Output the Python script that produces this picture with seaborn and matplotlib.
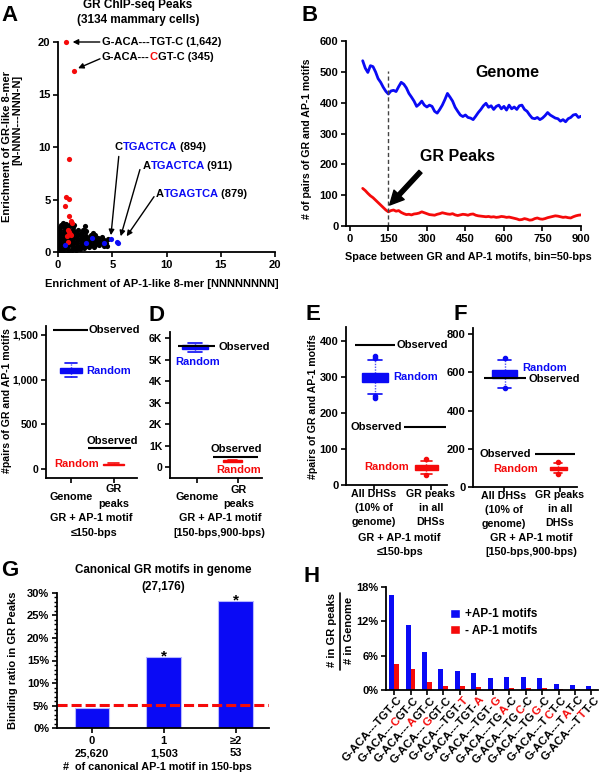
import numpy as np
import pandas as pd
import matplotlib
matplotlib.use("Agg")
import matplotlib.pyplot as plt
import seaborn as sns
from matplotlib.transforms import offset_copy, blended_transform_factory
from matplotlib.font_manager import FontProperties
from matplotlib.patches import Patch
from matplotlib.lines import Line2D

# ======================= DATA =======================
# Panel A: enrichment of 8-mers
A_black_x = [0.15, 0.5, 0.9, 1.3, 1.7, 2.0,
             0.1, 0.45, 0.85, 1.25, 1.65, 2.05, 2.4, 2.9, 3.3,
             0.2, 0.6, 1.0, 1.4, 1.8, 2.2, 2.6, 3.0, 3.4, 3.8, 4.26, 4.55,
             0.1, 0.5, 0.9, 1.3, 1.7, 2.1, 2.5, 2.9, 3.3, 3.7, 4.1, 4.45,
             0.2, 0.6, 1.0, 1.4, 1.8, 2.2, 2.6, 3.0, 3.4, 3.8, 4.2, 4.6,
             0.1, 0.5, 0.9, 1.3, 1.7, 2.1, 2.5, 2.9, 3.3, 3.7, 4.05,
             0.2, 0.6, 1.0, 1.4, 1.8, 2.2, 2.6, 3.0, 3.45,
             0.1, 0.5, 0.9, 1.3, 1.7, 2.1, 2.5, 3.2,
             0.2, 0.6, 1.0, 1.4, 1.8, 2.3, 2.6,
             0.15, 0.55, 0.95, 1.35, 2.5,
             0.3, 0.7, 1.1, 1.5,
             0.5, 1.2]
A_black_y = [0.10, 0.12, 0.08, 0.15, 0.18, 0.25,
             0.35, 0.33, 0.38, 0.32, 0.36, 0.40, 0.42, 0.45, 0.48,
             0.60, 0.58, 0.62, 0.57, 0.61, 0.63, 0.60, 0.64, 0.62, 0.66, 0.54, 0.58,
             0.85, 0.88, 0.83, 0.86, 0.84, 0.87, 0.82, 0.86, 0.85, 0.88, 0.84, 0.90,
             1.10, 1.08, 1.12, 1.09, 1.11, 1.07, 1.12, 1.10, 1.08, 1.13, 1.12, 1.20,
             1.35, 1.37, 1.33, 1.36, 1.34, 1.38, 1.35, 1.33, 1.36, 1.32, 1.42,
             1.60, 1.62, 1.58, 1.61, 1.59, 1.62, 1.57, 1.60, 1.65,
             1.85, 1.84, 1.87, 1.83, 1.86, 1.82, 1.88, 1.80,
             2.10, 2.12, 2.08, 2.11, 2.05, 2.12, 2.00,
             2.35, 2.37, 2.33, 2.36, 2.45,
             2.60, 2.62, 2.58, 2.55,
             2.78, 2.80]
A_red_x = [0.77, 1.45, 0.99, 0.74, 1.02, 0.68, 1.0, 1.2, 1.25, 0.95, 1.05, 1.2, 0.82, 1.1, 0.9]
A_red_y = [20.0, 17.25, 8.83, 5.2, 5.03, 4.35, 3.45, 3.0, 2.8, 2.1, 1.9, 1.6, 1.5, 1.7, 1.0]
A_blue_x = [0.68, 2.55, 3.1, 4.25, 4.88, 5.4, 5.5]
A_blue_y = [0.62, 0.9, 1.38, 0.9, 1.22, 1.0, 0.9]

# Panel B: pairs of GR and AP-1 motifs vs spacing
B_x = list(range(50, 901, 10))
B_genome = [536, 512, 498, 520, 517, 500, 478, 466, 450, 437, 428, 438, 440, 436, 452, 466, 460, 448, 430, 418,
            405, 388, 395, 405, 392, 386, 392, 388, 372, 366, 378, 392, 410, 430, 418, 405, 385, 372, 360, 355,
            360, 352, 350, 345, 356, 368, 378, 390, 398, 385, 390, 378, 388, 392, 380, 388, 376, 392, 380, 386,
            378, 390, 392, 378, 372, 360, 350, 348, 352, 345, 350, 358, 368, 360, 355, 350, 348, 340, 345, 338,
            348, 352, 360, 362, 352, 356]
B_peaks = [122, 115, 106, 98, 92, 84, 76, 68, 60, 52, 46, 50, 52, 48, 50, 44, 40, 37, 38, 36,
           39, 40, 42, 46, 43, 40, 37, 36, 35, 38, 40, 43, 41, 39, 38, 40, 36, 34, 36, 38,
           37, 35, 38, 39, 35, 33, 32, 31, 30, 31, 29, 30, 28, 29, 31, 30, 28, 29, 27, 25,
           23, 20, 21, 24, 22, 19, 20, 24, 26, 23, 22, 24, 27, 29, 31, 33, 32, 30, 28, 29,
           27, 26, 30, 33, 35, 36]

# Panels C-F: observed counts and random-sampling box statistics [first category, second category]
C_obs = [1560, 238]
C_med = [1100, 56]; C_q1 = [1075, 50]; C_q3 = [1125, 62]; C_lo = [1026, 46]; C_hi = [1189, 67]
C_fliers = [[], []]
D_obs = [5640, 490]
D_med = [5570, 290]; D_q1 = [5500, 265]; D_q3 = [5660, 315]; D_lo = [5360, 250]; D_hi = [5770, 330]
D_fliers = [[], []]
E_obs = [389, 160]
E_med = [298, 48]; E_q1 = [287, 43]; E_q3 = [310, 55]; E_lo = [253, 30]; E_hi = [347, 68]
E_fliers = [[352, 357, 247, 241], [73, 28]]
F_obs = [572, 172]
F_med = [592, 97]; F_q1 = [572, 89]; F_q3 = [612, 106]; F_lo = [520, 76]; F_hi = [664, 127]
F_fliers = [[673, 516], [134, 72]]

# Panel G: binding ratio
G_cats = ["0\n25,620", "1\n1,503", "\u22652\n53"]
G_vals = [4.4, 15.8, 28.2]
G_baseline = 5.2

# Panel H
H_motifs = ["G-ACA---TGT-C", "G-ACA---CGT-C", "G-ACA---AGT-C", "G-ACA---GGT-C", "G-ACA---TGT-T",
            "G-ACA---TGT-A", "G-ACA---TGT-G", "G-ACA---TGA-C", "G-ACA---TGC-C", "G-ACA---TGG-C",
            "G-ACA---TCT-C", "G-ACA---TAT-C", "G-ACA---TTT-C"]
H_red_idx = [None, 8, 8, 8, 12, 12, 12, 10, 10, 10, 9, 9, 9]
H_plus = [16.6, 11.4, 6.7, 3.6, 3.3, 2.9, 2.1, 2.2, 2.25, 2.1, 1.05, 0.9, 0.7]
H_minus = [4.5, 3.6, 1.45, 0.7, 0.65, 0.5, 0.25, 0.4, 0.4, 0.3, 0.15, 0.1, 0.05]
H_sets = ["+AP-1 motifs", "- AP-1 motifs"]

# ======================= STYLE =======================
sns.set_style("ticks")
FAM = ['Liberation Sans', 'DejaVu Sans']
plt.rcParams['font.family'] = FAM
plt.rcParams['font.weight'] = 'bold'
plt.rcParams['axes.labelweight'] = 'bold'
plt.rcParams['axes.edgecolor'] = 'black'
plt.rcParams['xtick.color'] = 'black'
plt.rcParams['ytick.color'] = 'black'
plt.rcParams['text.color'] = 'black'

BLUE = '#0a0af5'
RED = '#f50a0a'

W, H = 600, 773
fig = plt.figure(figsize=(W / 100, H / 100), dpi=100)
renderer = fig.canvas.get_renderer()


def add_ax(l, t, r, b):
    return fig.add_axes([l / W, 1 - b / H, (r - l) / W, (b - t) / H])


def ftext(x, y, s, **kw):
    kw.setdefault('ha', 'center')
    kw.setdefault('va', 'center')
    kw.setdefault('fontweight', 'bold')
    return fig.text(x / W, 1 - y / H, s, **kw)


def tw(s, size):
    if not s:
        return 0.0
    prop = FontProperties(family=FAM, weight='bold', size=size)
    a = renderer.get_text_width_height_descent(s + '|', prop, ismath=False)[0]
    b = renderer.get_text_width_height_descent('|', prop, ismath=False)[0]
    return a - b


def rainbow(ax, x, y, pieces, size, rot=0, ha='left', va='center', transform=None):
    if transform is None:
        transform = ax.transData
    full = ''.join(p for p, _ in pieces)
    start = -tw(full, size) if ha == 'right' else 0.0
    c, s_ = np.cos(np.radians(rot)), np.sin(np.radians(rot))
    prefix = ''
    for txt, col in pieces:
        off = start + tw(prefix, size)
        tr = offset_copy(transform, fig=fig, x=off * c, y=off * s_, units='dots')
        ax.text(x, y, txt, transform=tr, rotation=rot, rotation_mode='anchor',
                ha='left', va=va, color=col, fontsize=size, fontweight='bold', clip_on=False)
        prefix += txt


def style(ax, fs=8):
    sns.despine(ax=ax)
    ax.tick_params(direction='out', length=3.5, width=1.2, labelsize=fs, pad=2)
    for sp in ['left', 'bottom']:
        ax.spines[sp].set_linewidth(1.3)
        ax.spines[sp].set_color('black')


# panel letters
for lab, (px, py) in {'A': (10, 15.5), 'B': (310, 15.5), 'C': (8.5, 315.5), 'D': (156.5, 315.5),
                      'E': (312.5, 314.5), 'F': (460, 314.5), 'G': (10, 570), 'H': (311.5, 576.5)}.items():
    ftext(px, py, lab, fontsize=16)

# ======================= PANEL A =======================
axA = add_ax(58, 42, 275, 252)
sns.scatterplot(x=A_black_x, y=A_black_y, color='black', s=14, linewidth=0, ax=axA)
sns.scatterplot(x=A_red_x, y=A_red_y, color=RED, s=14, linewidth=0, ax=axA, clip_on=False)
sns.scatterplot(x=A_blue_x, y=A_blue_y, color=BLUE, s=14, linewidth=0, ax=axA)
axA.set_xlim(0, 20)
axA.set_ylim(0, 20)
axA.set_xticks([0, 5, 10, 15, 20])
axA.set_yticks([0, 5, 10, 15, 20])
style(axA, 8)
ftext(138, 12.5, "GR ChIP-seq Peaks\n(3134 mammary cells)", fontsize=8.5, linespacing=1.35)
ftext(162, 284, "Enrichment of AP-1-like 8-mer [NNNNNNNN]", fontsize=8)
ftext(7.5, 146, "Enrichment of GR-like 8-mer", fontsize=8, rotation=90)
ftext(17.5, 120, "[N-NNN---NNN-N]", fontsize=8, rotation=90)

aprops = dict(arrowstyle='-|>', color='black', lw=1, mutation_scale=8, shrinkA=0, shrinkB=0)
rainbow(axA, 4.05, 20.0, [("G-ACA---TGT-C (1,642)", 'black')], 8)
axA.annotate('', xy=(1.35, 20.0), xytext=(3.85, 20.0), arrowprops=aprops)
rainbow(axA, 4.05, 18.6, [("G-ACA---", 'black'), ("C", RED), ("GT-C (345)", 'black')], 8)
axA.annotate('', xy=(1.85, 17.5), xytext=(3.87, 18.4), arrowprops=aprops)
rainbow(axA, 5.25, 10.0, [("C", 'black'), ("TGACTCA", BLUE), (" (894)", 'black')], 8)
axA.annotate('', xy=(4.88, 1.6), xytext=(5.6, 9.1), arrowprops=aprops)
rainbow(axA, 7.8, 8.2, [("A", 'black'), ("TGACTCA", BLUE), (" (911)", 'black')], 8)
axA.annotate('', xy=(5.78, 1.5), xytext=(7.55, 7.85), arrowprops=aprops)
rainbow(axA, 9.0, 5.5, [("A", 'black'), ("TGAGTCA", BLUE), (" (879)", 'black')], 8)
axA.annotate('', xy=(6.33, 1.5), xytext=(8.85, 5.27), arrowprops=aprops)

# ======================= PANEL B =======================
axB = add_ax(346, 41, 581, 226)
sns.lineplot(x=B_x, y=B_genome, color=BLUE, lw=2, ax=axB)
sns.lineplot(x=B_x, y=B_peaks, color=RED, lw=2, ax=axB)
axB.set_xlim(-15, 900)
axB.set_ylim(0, 600)
axB.set_xticks(range(0, 901, 150))
axB.set_yticks(range(0, 601, 100))
style(axB, 8)
axB.vlines(150, 0, 503, colors='#444444', linestyles=(0, (3, 2)), lw=1)
axB.text(613, 498, "Genome", fontsize=11.5, ha='center', va='center', fontweight='bold')
axB.text(419, 226, "GR Peaks", fontsize=11.5, ha='center', va='center', fontweight='bold')
axB.annotate('', xy=(155, 68), xytext=(275, 176),
             arrowprops=dict(facecolor='black', edgecolor='black', width=3, headwidth=10, headlength=10, shrink=0))
ftext(468, 257, "Space between GR and AP-1 motifs, bin=50-bps", fontsize=7.8)
ftext(307, 139, "# of pairs of GR and AP-1 motifs", fontsize=7.6, rotation=90)


# ======================= PANELS C-F =======================
def box_panel(ax, pos, widths, med, q1, q3, lo, hi, fliers):
    cols = [BLUE, RED]
    for i in range(2):
        st = [dict(med=med[i], q1=q1[i], q3=q3[i], whislo=lo[i], whishi=hi[i], fliers=fliers[i])]
        ax.bxp(st, positions=[pos[i]], widths=[widths[i]], patch_artist=True, showfliers=True,
               boxprops=dict(facecolor=cols[i], edgecolor=cols[i], linewidth=1),
               whiskerprops=dict(color=cols[i], linestyle=(0, (1, 1)), linewidth=1, alpha=0.7),
               capprops=dict(color=cols[i], linewidth=1.2), capwidths=[widths[i] * 0.5],
               medianprops=dict(color=cols[i], linewidth=0),
               flierprops=dict(marker='o', markersize=3, markerfacecolor=cols[i], markeredgecolor=cols[i]),
               manage_ticks=False)


def cat_text(ax, x, py, s, **kw):
    tr = blended_transform_factory(ax.transData, fig.transFigure)
    ax.text(x, 1 - py / H, s, transform=tr, ha='center', va='center', fontweight='bold', **kw)


# C
axC = add_ax(45.7, 326, 137, 478)
box_panel(axC, [0, 1.0], [0.53, 0.5], C_med, C_q1, C_q3, C_lo, C_hi, C_fliers)
axC.hlines(C_obs[0], -0.43, 0.39, color='black', lw=1.5)
axC.hlines(C_obs[1], 0.39, 1.41, color='black', lw=1.5)
axC.set_xlim(-0.59, 1.55)
axC.set_ylim(-100, 1600)
axC.set_xticks([0, 1])
axC.set_xticklabels(['', ''])
axC.set_yticks([0, 500, 1000, 1500])
axC.set_yticklabels(['0', '500', '1,000', '1,500'])
style(axC, 7.5)
axC.text(0.42, 1560, "Observed", fontsize=8, va='center', ha='left', fontweight='bold')
axC.text(0.36, 1095, "Random", fontsize=8, va='center', ha='left', color=BLUE, fontweight='bold')
axC.text(0.97, 317, "Observed", fontsize=8, va='center', ha='center', fontweight='bold')
axC.text(0.67, 56, "Random", fontsize=8, va='center', ha='right', color=RED, fontweight='bold')
cat_text(axC, 0, 496.7, "Genome", fontsize=7.8)
cat_text(axC, 1, 496.7, "GR\npeaks", fontsize=7.8, linespacing=1.6)
ftext(91, 518, "GR + AP-1 motif", fontsize=7.8)
ftext(94, 533, "\u2264150-bps", fontsize=7.8)
ftext(7, 401, "#pairs of GR and AP-1 motifs", fontsize=7.6, rotation=90)

# D
axD = add_ax(170, 331.7, 261.7, 478)
box_panel(axD, [-0.04, 0.86], [0.64, 0.44], D_med, D_q1, D_q3, D_lo, D_hi, D_fliers)
axD.hlines(D_obs[0], -0.44, 0.44, color='black', lw=1.5)
axD.hlines(D_obs[1], 0.4, 1.46, color='black', lw=1.5)
axD.set_xlim(-0.64, 1.56)
axD.set_ylim(-500, 6300)
axD.set_xticks([0, 1])
axD.set_xticklabels(['', ''])
axD.set_yticks([0, 1000, 2000, 3000, 4000, 5000, 6000])
axD.set_yticklabels(['0', '1K', '2K', '3K', '4K', '5K', '6K'])
style(axD, 7.5)
axD.text(0.52, 5600, "Observed", fontsize=8, va='center', ha='left', fontweight='bold')
axD.text(0.03, 4900, "Random", fontsize=8, va='center', ha='center', color=BLUE, fontweight='bold')
axD.text(0.96, 850, "Observed", fontsize=8, va='center', ha='center', fontweight='bold')
axD.text(1.0, -140, "Random", fontsize=8, va='center', ha='center', color=RED, fontweight='bold')
cat_text(axD, 0, 497.5, "Genome", fontsize=7.8)
cat_text(axD, 1, 497, "GR\npeaks", fontsize=7.8, linespacing=1.6)
ftext(220, 518, "GR + AP-1 motif", fontsize=7.8)
ftext(219, 533, "[150-bps,900-bps)", fontsize=7.8)

# E
axE = add_ax(346, 326.6, 446.7, 485)
box_panel(axE, [0.015, 0.92], [0.47, 0.4], E_med, E_q1, E_q3, E_lo, E_hi, E_fliers)
axE.hlines(E_obs[0], -0.33, 0.37, color='black', lw=1.5)
axE.hlines(E_obs[1], 0.53, 1.27, color='black', lw=1.5)
axE.set_xlim(-0.494, 1.28)
axE.set_ylim(0, 440)
axE.set_xticks([0, 1])
axE.set_xticklabels(['', ''])
axE.set_yticks([0, 100, 200, 300, 400])
style(axE, 8)
axE.text(0.39, 389, "Observed", fontsize=8, va='center', ha='left', fontweight='bold')
axE.text(0.34, 299, "Random", fontsize=8, va='center', ha='left', color=BLUE, fontweight='bold')
axE.text(0.49, 160, "Observed", fontsize=8, va='center', ha='right', fontweight='bold')
axE.text(0.62, 49, "Random", fontsize=8, va='center', ha='right', color=RED, fontweight='bold')
cat_text(axE, 0, 508, "All DHSs\n(10% of\ngenome)", fontsize=7.7, linespacing=1.5)
cat_text(axE, 1, 508, "GR peaks\nin all\nDHSs", fontsize=7.7, linespacing=1.5)
ftext(399, 538, "GR + AP-1 motif", fontsize=7.8)
ftext(400, 552, "\u2264150-bps", fontsize=7.8)
ftext(313, 407, "#pairs of GR and AP-1 motifs", fontsize=7.6, rotation=90)

# F
axF = add_ax(473.3, 328.3, 576.7, 487.3)
box_panel(axF, [0.01, 0.97], [0.46, 0.3], F_med, F_q1, F_q3, F_lo, F_hi, F_fliers)
axF.hlines(F_obs[0], -0.35, 0.4, color='black', lw=1.5)
axF.hlines(F_obs[1], 0.55, 1.27, color='black', lw=1.5)
axF.set_xlim(-0.55, 1.3)
axF.set_ylim(0, 830)
axF.set_xticks([0, 1])
axF.set_xticklabels(['', ''])
axF.set_yticks([0, 200, 400, 600, 800])
style(axF, 8)
axF.text(0.43, 563, "Observed", fontsize=8, va='center', ha='left', fontweight='bold')
axF.text(0.32, 625, "Random", fontsize=8, va='center', ha='left', color=BLUE, fontweight='bold')
axF.text(0.49, 172, "Observed", fontsize=8, va='center', ha='right', fontweight='bold')
axF.text(0.61, 94, "Random", fontsize=8, va='center', ha='right', color=RED, fontweight='bold')
cat_text(axF, 0, 510, "All DHSs\n(10% of\ngenome)", fontsize=7.7, linespacing=1.5)
cat_text(axF, 1, 509, "GR peaks\nin all\nDHSs", fontsize=7.7, linespacing=1.5)
ftext(531, 538, "GR + AP-1 motif", fontsize=7.8)
ftext(531, 552, "[150-bps,900-bps)", fontsize=7.8)

# ======================= PANEL G =======================
axG = add_ax(56.7, 592.7, 269.3, 728.3)
sns.barplot(x=G_cats, y=G_vals, color=BLUE, width=0.48, saturation=1, errorbar=None,
            edgecolor='#b8b8ff', linewidth=0.8, ax=axG)
axG.axhline(G_baseline, color=RED, ls=(0, (3.3, 1.3)), lw=2.2)
for i, v in enumerate(G_vals[1:], start=1):
    axG.text(i, v - 0.9, "*", ha='center', va='baseline', fontsize=11, fontweight='bold')
axG.set_xlim(-0.49, 2.47)
axG.set_ylim(0, 30)
axG.set_yticks(range(0, 31, 5))
axG.set_yticklabels([f"{v}%" for v in range(0, 31, 5)])
axG.set_yticks(range(0, 31, 1), minor=True)
axG.set_xlabel('')
axG.set_ylabel('')
style(axG, 8)
axG.tick_params(axis='y', which='minor', length=2, width=1)
axG.tick_params(axis='x', pad=2)
for t in axG.get_xticklabels():
    t.set_linespacing(1.3)
ftext(163, 578.3, "Canonical GR motifs in genome\n(27,176)", fontsize=8.4, linespacing=1.55)
ftext(157, 766.7, "#  of canonical AP-1 motif in 150-bps", fontsize=7.8)
ftext(13.3, 660.5, "Binding ratio in GR Peaks", fontsize=8, rotation=90)

# ======================= PANEL H =======================
axH = add_ax(386, 586.7, 598, 690)
dfH = pd.DataFrame({'motif': H_motifs * 2,
                    'set': [H_sets[0]] * len(H_motifs) + [H_sets[1]] * len(H_motifs),
                    'val': H_plus + H_minus})
sns.barplot(data=dfH, x='motif', y='val', hue='set', palette=[BLUE, RED], width=0.6, saturation=1,
            errorbar=None, legend=False, linewidth=0, ax=axH)
axH.set_xlim(-0.49, 12.4)
axH.set_ylim(0, 18)
axH.set_yticks([0, 6, 12, 18])
axH.set_yticklabels(['0%', '6%', '12%', '18%'])
axH.set_xticks(range(len(H_motifs)))
axH.set_xticklabels([''] * len(H_motifs))
axH.set_xlabel('')
axH.set_ylabel('')
style(axH, 8)
axH.legend(handles=[Patch(facecolor=BLUE), Patch(facecolor=RED)], labels=H_sets, loc='upper left',
           bbox_to_anchor=(0.30, 0.79), frameon=False, handlelength=0.85, handleheight=0.85,
           handletextpad=0.45, labelspacing=0.35, fontsize=8.5, borderaxespad=0, borderpad=0)
base_tr = offset_copy(axH.get_xaxis_transform(), fig=fig, x=2.5, y=-5, units='dots')
for i, (m, ri) in enumerate(zip(H_motifs, H_red_idx)):
    if ri is None:
        pieces = [(m, 'black')]
    else:
        pieces = [(m[:ri], 'black'), (m[ri], RED), (m[ri + 1:], 'black')]
        pieces = [p for p in pieces if p[0]]
    rainbow(axH, i, 0, pieces, 8.2, rot=48, ha='right', va='top', transform=base_tr)
ftext(331.7, 630, "# in GR peaks", fontsize=8, rotation=90)
ftext(349, 630, "# in Genome", fontsize=8, rotation=90)
fig.add_artist(Line2D([340 / W, 340 / W], [1 - 593 / H, 1 - 670 / H], color='black', lw=1.2))

fig.savefig("out.png", dpi=100)
